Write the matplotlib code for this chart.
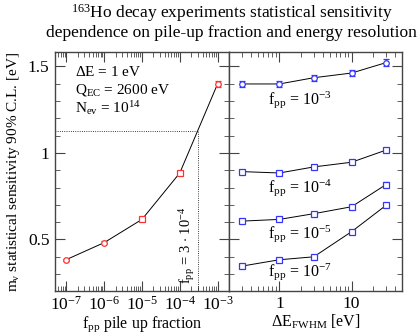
import matplotlib
matplotlib.use("Agg")
import matplotlib.pyplot as plt
from matplotlib.ticker import LogLocator, MultipleLocator, NullFormatter

plt.rcParams['font.family'] = ['Liberation Serif', 'DejaVu Serif']
plt.rcParams['mathtext.fontset'] = 'custom'
plt.rcParams['mathtext.rm'] = 'Liberation Serif'
plt.rcParams['mathtext.it'] = 'Liberation Serif:italic'

# left panel: sensitivity vs pile-up fraction (dE = 1 eV)
fpp = [1e-7, 1e-6, 1e-5, 1e-4, 1e-3]
sens_fpp = [0.384, 0.482, 0.616, 0.884, 1.398]
err_fpp = [0.006, 0.007, 0.008, 0.012, 0.018]
marker_fpp = ['o', 'o', 's', 's', 'o']

# right panel: sensitivity vs energy resolution
dE = [0.3, 1, 3, 10, 30]
sens_1e3 = [1.398, 1.398, 1.434, 1.461, 1.521]
err_1e3 = [0.018, 0.018, 0.018, 0.018, 0.02]
sens_1e4 = [0.892, 0.884, 0.919, 0.946, 1.016]
err_1e4 = [0.009, 0.012, 0.009, 0.01, 0.012]
sens_1e5 = [0.606, 0.616, 0.649, 0.689, 0.817]
err_1e5 = [0.006, 0.006, 0.006, 0.007, 0.014]
sens_1e7 = [0.346, 0.383, 0.40, 0.545, 0.697]
err_1e7 = [0.005, 0.005, 0.005, 0.006, 0.007]

series_right = [
    (sens_1e3, err_1e3, 'o', r'$\mathrm{f_{pp}}$ = 10$^{-3}$', 1.31),
    (sens_1e4, err_1e4, 's', r'$\mathrm{f_{pp}}$ = 10$^{-4}$', 0.80),
    (sens_1e5, err_1e5, 's', r'$\mathrm{f_{pp}}$ = 10$^{-5}$', 0.535),
    (sens_1e7, err_1e7, 's', r'$\mathrm{f_{pp}}$ = 10$^{-7}$', 0.315),
]

fpp_limit = 3e-4
sens_limit = 1.125

fig = plt.figure(figsize=(4.17, 3.34), dpi=100)
ax1 = fig.add_axes([0.132, 0.130, 0.417, 0.713])
ax2 = fig.add_axes([0.549, 0.130, 0.415, 0.713], sharey=ax1)

spine_col = '#444444'
red = '#ff3030'
blue = '#3535ff'

# left
ax1.plot(fpp, sens_fpp, color='black', lw=0.7, zorder=2)
for x, y, e, m in zip(fpp, sens_fpp, err_fpp, marker_fpp):
    ax1.errorbar([x], [y], yerr=[e], fmt=m, ms=4, mfc='white', mec=red,
                 mew=0.9, ecolor=red, elinewidth=0.9, capsize=2, zorder=3)
ax1.plot([5e-8, fpp_limit], [sens_limit, sens_limit], ls=':', color='black', lw=0.6)
ax1.plot([fpp_limit, fpp_limit], [0.205, sens_limit], ls=':', color='black', lw=0.6)
ax1.set_xscale('log')
ax1.set_xlim(5e-8, 2e-3)
ax1.set_ylim(0.205, 1.58)
ax1.set_xticks([1e-7, 1e-6, 1e-5, 1e-4, 1e-3])
ax1.set_xticklabels(['10$^{-7}$', '10$^{-6}$', '10$^{-5}$', '10$^{-4}$', '10$^{-3}$'])
ax1.xaxis.set_minor_locator(LogLocator(base=10, subs=range(2, 10), numticks=20))
ax1.xaxis.set_minor_formatter(NullFormatter())
ax1.yaxis.set_minor_locator(MultipleLocator(0.1))
ax1.set_yticks([0.5, 1.0, 1.5])
ax1.set_yticklabels(['0.5', '1', '1.5'])
ax1.set_xlabel(r'$\mathrm{f_{pp}}$ pile up fraction', fontsize=11.5, labelpad=0)
ax1.set_ylabel(r'$\mathrm{m_{\nu}}$ statistical sensitivity 90% C.L. [eV]', fontsize=11, labelpad=4)
ax1.text(0.115, 0.917, r'$\Delta$E = 1 eV', transform=ax1.transAxes, fontsize=11, va='center')
ax1.text(0.115, 0.842, r'Q$_{\mathrm{EC}}$ = 2600 eV', transform=ax1.transAxes, fontsize=11, va='center')
ax1.text(0.115, 0.766, r'N$_{\mathrm{ev}}$ = 10$^{14}$', transform=ax1.transAxes, fontsize=11, va='center')
ax1.text(1.55e-4, 0.245, r'$\mathrm{f_{pp}}$ = 3 $\cdot$ 10$^{-4}$', rotation=90, fontsize=10.5,
         ha='center', va='bottom')

# right
for vals, errs, m, lab, ylab in series_right:
    ax2.plot(dE, vals, color='black', lw=0.7, zorder=2)
    ax2.errorbar(dE, vals, yerr=errs, fmt=m, ls='none', ms=4, mfc='white', mec=blue,
                 mew=0.9, ecolor=blue, elinewidth=0.9, capsize=2, zorder=3)
    ax2.text(0.7, ylab, lab, fontsize=11.5, va='center', ha='left')
ax2.set_xscale('log')
ax2.set_xlim(0.2, 50)
ax2.set_xticks([1, 10])
ax2.set_xticklabels(['1', '10'])
ax2.xaxis.set_minor_locator(LogLocator(base=10, subs=range(2, 10), numticks=20))
ax2.xaxis.set_minor_formatter(NullFormatter())
ax2.tick_params(axis='y', labelleft=False)
ax2.set_xlabel(r'$\Delta$E$_{\mathrm{FWHM}}$ [eV]', fontsize=11.5, labelpad=0)

for ax in (ax1, ax2):
    for sp in ax.spines.values():
        sp.set_color(spine_col)
        sp.set_linewidth(1.0)
    ax.tick_params(which='both', direction='in', top=True, right=True, color=spine_col,
                   labelsize=12.5, pad=4)
    ax.tick_params(which='major', length=7, width=0.8)
    ax.tick_params(which='minor', length=3.5, width=0.6)

fig.suptitle('$^{163}$Ho decay experiments statistical sensitivity\n'
             'dependence on pile-up fraction and energy resolution',
             fontsize=12.5, y=0.995, x=0.555, linespacing=1.1)

fig.savefig('out.png', dpi=100)
